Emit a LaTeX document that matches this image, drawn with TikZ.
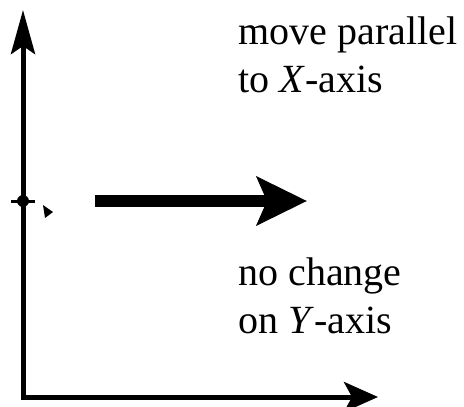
\documentclass[tikz,border=0pt]{standalone}
\usepackage{fontspec}
\setmainfont{Liberation Serif}
\usetikzlibrary{arrows.meta}

\begin{document}
\begin{tikzpicture}[
        x=0.5pt, y=-0.5pt,
        axis/.style={line width=2.5pt, line cap=round},
        movearrow/.style={line width=6pt, -{Stealth[length=25pt, width=24pt, inset=5pt]}},
        note/.style={font=\fontsize{20}{24}\selectfont, align=left, anchor=base west, inner sep=0pt}
    ]
    \useasboundingbox (0,0) rectangle (464,406);

    % axes
    \coordinate (ytop) at (23,10);
    \coordinate (origin) at (23,397);
    \coordinate (xtip) at (378,397);
    \draw[axis, {Stealth[length=22pt, width=12pt, inset=4pt]}-{Stealth[length=17pt, width=15pt, inset=4pt]}]
        (ytop) -- (origin) -- (xtip);

    % tick on the y-axis
    \coordinate (tickl) at (11,201);
    \coordinate (tickr) at (35,201);
    \draw[line width=1.5pt] (tickl) -- (tickr);
    \fill (23,201) circle (3pt);
    \fill (43,205) -- (53,212) -- (45,218) -- cycle;

    % the move
    \coordinate (start) at (95,201);
    \coordinate (end) at (307,201);
    \draw[movearrow] (start) -- (end);

    % notes (base = last line)
    \node[note] (movetxt) at (238,93) {move parallel\\to \textit{X}-axis};
    \node[note] (stay) at (238,333) {no change\\on \textit{Y}-axis};

\end{tikzpicture}
\end{document}
